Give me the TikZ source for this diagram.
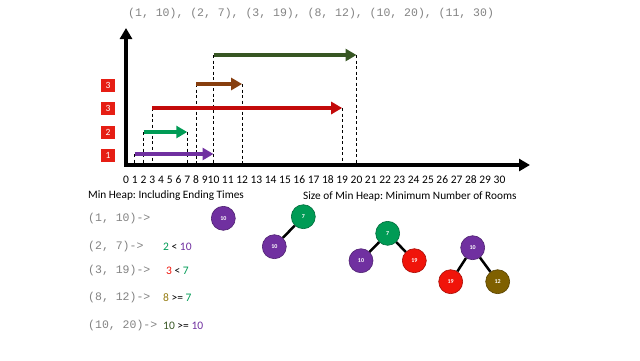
\documentclass[tikz,border=0pt]{standalone}
\usepackage{fontspec}
\setmainfont{Carlito}
\setmonofont{Liberation Mono}
\frenchspacing
\usetikzlibrary{arrows.meta}
\definecolor{hpurple}{RGB}{112,48,160}
\definecolor{hgreen}{RGB}{0,155,85}
\definecolor{hdarkred}{RGB}{195,10,10}
\definecolor{hred}{RGB}{240,20,10}
\definecolor{hbrown}{RGB}{135,62,14}
\definecolor{holive}{RGB}{55,86,35}
\definecolor{hgold}{RGB}{127,96,0}
\definecolor{hmustard}{RGB}{150,125,20}
\definecolor{hgray}{RGB}{130,130,130}
\definecolor{hbox}{RGB}{230,30,20}
\tikzset{my axis/.style={line width=3.5pt, -{Triangle[length=11pt,width=12pt]}},
my interval/.style={line width=4pt, -{Triangle[length=11pt,width=12pt]}},
my drop/.style={line width=0.8pt, dash pattern=on 3pt off 2.5pt},
my tick/.style={inner sep=0pt, font=\fontsize{11.5}{13}\selectfont},
my count/.style={fill=hbox, text=white, minimum width=14pt, minimum height=13pt, inner sep=0pt, font=\fontsize{9.5}{10}\selectfont},
my heap/.style={circle, minimum size=24pt, inner sep=0pt, line width=0.6pt, text=white, font=\fontsize{6}{7}\selectfont\bfseries},
my edge/.style={line width=2.5pt},
my pair/.style={anchor=west, inner sep=0pt, text=hgray, font=\ttfamily\fontsize{11.5}{13}\selectfont},
my check/.style={anchor=west, inner sep=0pt, font=\fontsize{11.5}{13}\selectfont},
my title/.style={anchor=west, inner sep=0pt, font=\fontsize{11.3}{13}\selectfont},}

\begin{document}
\begin{tikzpicture}[x=1pt,y=-1pt]
\useasboundingbox (0,0) rectangle (640,360);
\node [my pair] (list) at (128, 14) {(1, 10), (2, 7), (3, 19), (8, 12), (10, 20), (11, 30)};
\coordinate (O) at (126,165);
\coordinate (ytop) at (126,28);
\coordinate (xend) at (530,165);
\node [my tick] (t0) at (126.00,180) {0};
\node [my tick] (t1) at (134.75,180) {1};
\node [my tick] (t2) at (143.50,180) {2};
\node [my tick] (t3) at (152.25,180) {3};
\node [my tick] (t4) at (161.00,180) {4};
\node [my tick] (t5) at (169.75,180) {5};
\node [my tick] (t6) at (178.50,180) {6};
\node [my tick] (t7) at (187.25,180) {7};
\node [my tick] (t8) at (196.00,180) {8};
\node [my tick] (t9) at (204.75,180) {9};
\node [my tick] (t10) at (213.50,180) {10};
\node [my tick] (t11) at (227.80,180) {11};
\node [my tick] (t12) at (242.10,180) {12};
\node [my tick] (t13) at (256.40,180) {13};
\node [my tick] (t14) at (270.70,180) {14};
\node [my tick] (t15) at (285.00,180) {15};
\node [my tick] (t16) at (299.30,180) {16};
\node [my tick] (t17) at (313.60,180) {17};
\node [my tick] (t18) at (327.90,180) {18};
\node [my tick] (t19) at (342.20,180) {19};
\node [my tick] (t20) at (356.50,180) {20};
\node [my tick] (t21) at (370.80,180) {21};
\node [my tick] (t22) at (385.10,180) {22};
\node [my tick] (t23) at (399.40,180) {23};
\node [my tick] (t24) at (413.70,180) {24};
\node [my tick] (t25) at (428.00,180) {25};
\node [my tick] (t26) at (442.30,180) {26};
\node [my tick] (t27) at (456.60,180) {27};
\node [my tick] (t28) at (470.90,180) {28};
\node [my tick] (t29) at (485.20,180) {29};
\node [my tick] (t30) at (499.50,180) {30};
\coordinate (iv1s) at (t1 |- 0,154);
\coordinate (iv1e) at (t10 |- 0,154);
\coordinate (iv2s) at (t2 |- 0,132);
\coordinate (iv2e) at (t7 |- 0,132);
\coordinate (iv3s) at (t3 |- 0,108);
\coordinate (iv3e) at (t19 |- 0,108);
\coordinate (iv4s) at (t8 |- 0,84);
\coordinate (iv4e) at (t12 |- 0,84);
\coordinate (iv5s) at (t10 |- 0,55);
\coordinate (iv5e) at (t20 |- 0,55);
\draw [my drop] (iv1s) -- (iv1s |- O);
\draw [my drop] (iv1e) -- (iv1e |- O);
\draw [my drop] (iv2s) -- (iv2s |- O);
\draw [my drop] (iv2e) -- (iv2e |- O);
\draw [my drop] (iv3s) -- (iv3s |- O);
\draw [my drop] (iv3e) -- (iv3e |- O);
\draw [my drop] (iv4s) -- (iv4s |- O);
\draw [my drop] (iv4e) -- (iv4e |- O);
\draw [my drop] (iv5s) -- (iv5s |- O);
\draw [my drop] (iv5e) -- (iv5e |- O);
\draw [my interval,hpurple] (iv1s) -- (iv1e);
\draw [my interval,hgreen] (iv2s) -- (iv2e);
\draw [my interval,hdarkred] (iv3s) -- (iv3e);
\draw [my interval,hbrown] (iv4s) -- (iv4e);
\draw [my interval,holive] (iv5s) -- (iv5e);
\draw [my axis] ([yshift=1.5pt]O) -- (ytop);
\draw [my axis] ([xshift=-1.75pt]O) -- (xend);
\node [my count] (c1) at (108,155) {1};
\node [my count] (c2) at (108,132) {2};
\node [my count] (c3) at (108,108) {3};
\node [my count] (c4) at (108,85) {3};
\node [my title] (left title) at (88,196) {Min Heap: Including Ending Times};
\node [my title] (right title) at (303,196) {Size of Min Heap: Minimum Number of Rooms};
\node [my pair] (p1) at (88,219) {(1, 10)->};
\node [my pair] (p2) at (88,247) {(2, 7)->};
\node [my pair] (p3) at (88,271) {(3, 19)->};
\node [my pair] (p4) at (88,298) {(8, 12)->};
\node [my pair] (p5) at (88,326) {(10, 20)->};
\node [my check] (k2) at (163,247) {\textcolor{hgreen}{2} < \textcolor{hpurple}{10}};
\node [my check] (k3) at (166,271) {\textcolor{hred}{3} < \textcolor{hgreen}{7}};
\node [my check] (k4) at (163,298) {\textcolor{hmustard}{8} >= \textcolor{hgreen}{7}};
\node [my check] (k5) at (163,326) {\textcolor{holive}{10} >= \textcolor{hpurple}{10}};
\node [my heap,fill=hpurple,draw=hpurple!70!black] (a1) at (223.3,218.3) {10};
\node [my heap,fill=hgreen,draw=hgreen!70!black] (b1) at (303.3,216.7) {7};
\node [my heap,fill=hpurple,draw=hpurple!70!black] (b2) at (274.3,246.7) {10};
\node [my heap,fill=hgreen,draw=hgreen!70!black] (c1h) at (387.7,233.3) {7};
\node [my heap,fill=hpurple,draw=hpurple!70!black] (c2h) at (361.0,260.7) {10};
\node [my heap,fill=hred,draw=hred!70!black] (c3h) at (414.3,260.7) {19};
\node [my heap,fill=hpurple,draw=hpurple!70!black] (d1) at (472.7,247.7) {10};
\node [my heap,fill=hred,draw=hred!70!black] (d2) at (450.7,281.7) {19};
\node [my heap,fill=hgold,draw=hgold!70!black] (d3) at (497.7,281.7) {12};
\draw [my edge] (b1) -- (b2);
\draw [my edge] (c1h) -- (c2h);
\draw [my edge] (c1h) -- (c3h);
\draw [my edge] (d1) -- (d2);
\draw [my edge] (d1) -- (d3);
\end{tikzpicture}
\end{document}
